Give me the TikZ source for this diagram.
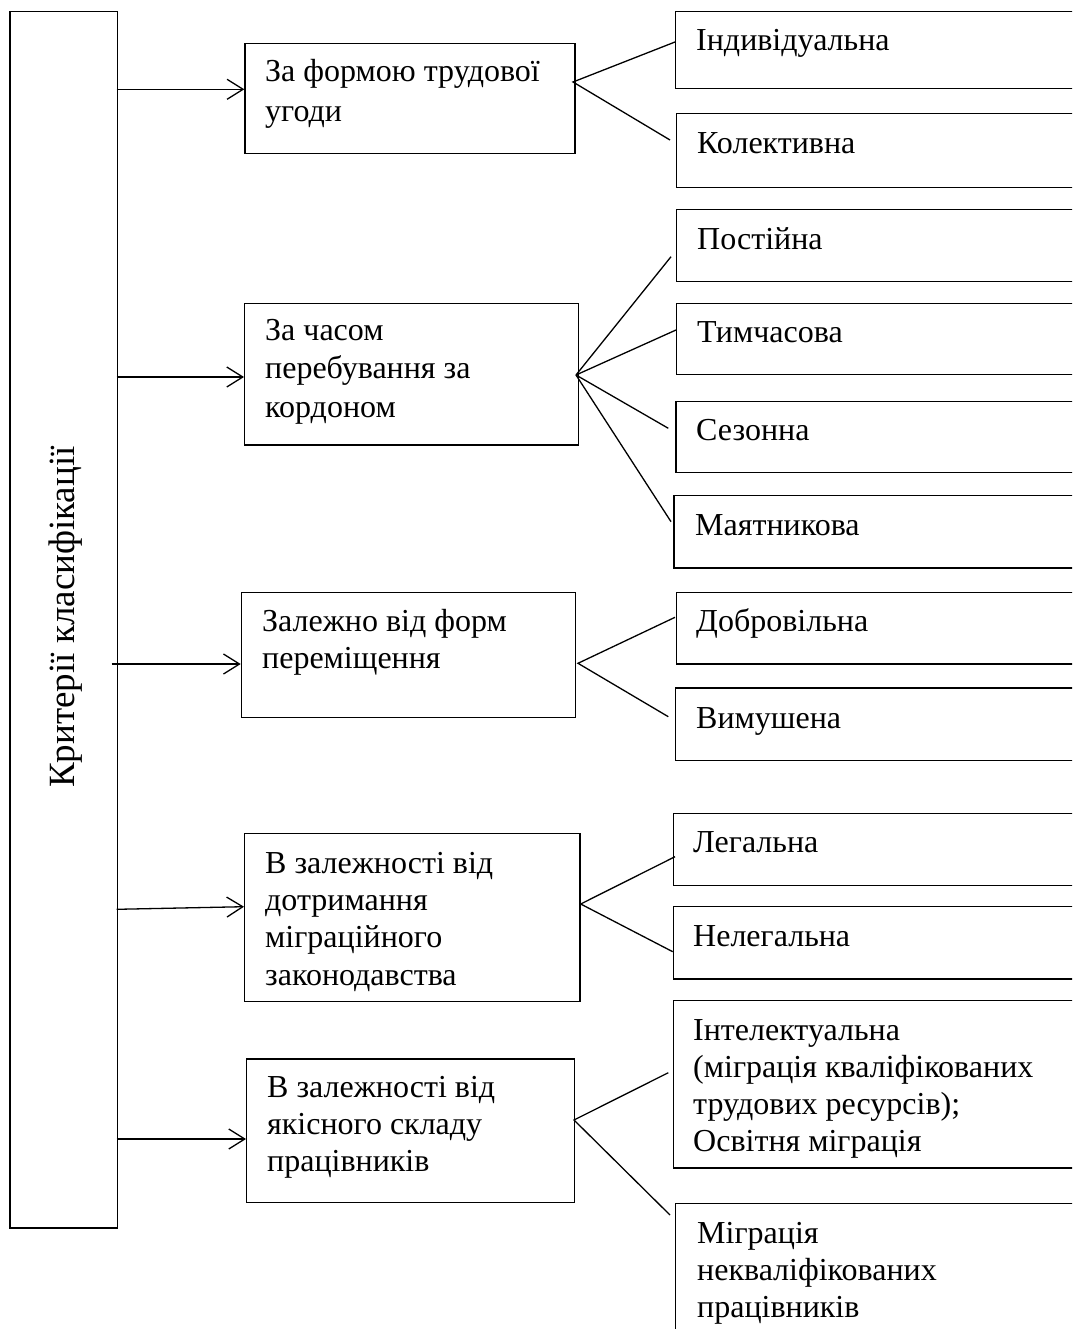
\documentclass[tikz,border=0pt]{standalone}
\usepackage{fontspec}
\setmainfont{Liberation Serif}
\usetikzlibrary{arrows.meta,calc}
\begin{document}
\begin{tikzpicture}[x=1pt,y=-1pt,
  box/.style={draw, line width=1.2pt, inner sep=0pt, anchor=north west},
  txt/.style={font=\fontsize{32}{37}\selectfont, align=left, inner sep=0pt, anchor=base west},
  arr/.style={line width=1.3pt, -{Straight Barb[length=16pt,width=20pt]}},
  fan/.style={line width=1.3pt}]
\useasboundingbox (0,0) rectangle (1072,1329);
\clip (0,0) rectangle (1072,1329);
\fill[white] (0,0) rectangle (1072,1329);

% main vertical box
\node[box, minimum width=107.4pt, minimum height=1216.6pt] (crit) at (9.3,10.7) {};
\node[font=\fontsize{37}{42}\selectfont, rotate=90, anchor=base, inner sep=0pt] (critt) at (74,617) {Критерії класифікації};

% criteria boxes
\node[box, minimum width=330pt, minimum height=110pt] (b1) at (244.3,42.7) {};
\node[box, minimum width=334pt, minimum height=141.6pt] (b2) at (244,302.7) {};
\node[box, minimum width=334.5pt, minimum height=125pt] (b3) at (240.7,591.7) {};
\node[box, minimum width=335.3pt, minimum height=168pt] (b4) at (244,832.7) {};
\node[box, minimum width=328pt, minimum height=143.4pt] (b5) at (246,1058.3) {};

% (multi-line texts are anchored at the baseline of their last line)
\node[txt, font=\fontsize{32}{40}\selectfont] (t1) at (265,122) {За формою трудової\\угоди};
\node[txt, font=\fontsize{32}{38.5}\selectfont] (t2) at (265,417) {За часом\\перебування за\\кордоном};
\node[txt] (t3) at (262,668) {Залежно від форм\\переміщення};
\node[txt, font=\fontsize{32}{37.3}\selectfont] (t4) at (265,985.2) {В залежності від\\дотримання\\міграційного\\законодавства};
\node[txt] (t5) at (267,1171) {В залежності від\\якісного складу\\працівників};

% type boxes
\node[box, minimum width=415pt, minimum height=77.6pt] (r1) at (675,10.7) {};
\node[box, minimum width=414pt, minimum height=73.4pt] (r2) at (676,113.3) {};
\node[box, minimum width=414pt, minimum height=71.7pt] (r3) at (676,209.3) {};
\node[box, minimum width=414pt, minimum height=71.3pt] (r4) at (676,302.7) {};
\node[box, minimum width=415pt, minimum height=71.3pt] (r5) at (675.3,400.7) {};
\node[box, minimum width=417pt, minimum height=72.3pt] (r6) at (673.3,495) {};
\node[box, minimum width=414pt, minimum height=71.6pt] (r7) at (676,591.7) {};
\node[box, minimum width=415pt, minimum height=72.7pt] (r8) at (675,687.3) {};
\node[box, minimum width=417pt, minimum height=72.3pt] (r9) at (672.7,812.7) {};
\node[box, minimum width=417pt, minimum height=72.3pt] (r10) at (672.7,906) {};
\node[box, minimum width=417pt, minimum height=167.3pt] (r11) at (672.7,1000) {};
\node[box, minimum width=415pt, minimum height=200pt] (r12) at (675,1203) {};

\node[txt] (u1) at (696,50.5) {Індивідуальна};
\node[txt] (u2) at (697,154) {Колективна};
\node[txt] (u3) at (697,250) {Постійна};
\node[txt] (u4) at (697,342.7) {Тимчасова};
\node[txt] (u5) at (696,440) {Сезонна};
\node[txt] (u6) at (695,535) {Маятникова};
\node[txt] (u7) at (696,631.7) {Добровільна};
\node[txt] (u8) at (696,728) {Вимушена};
\node[txt] (u9) at (693,852.3) {Легальна};
\node[txt] (u10) at (693,946.7) {Нелегальна};
\node[txt] (u11) at (693,1151) {Інтелектуальна\\(міграція кваліфікованих\\трудових ресурсів);\\Освітня міграція};
\node[txt] (u12) at (697,1317) {Міграція\\некваліфікованих\\працівників};

% arrows from the main box
\coordinate (s1) at (116.7,89.3);
\coordinate (s2) at (116.7,377);
\coordinate (s3) at (111.7,664);
\coordinate (s4) at (116.7,909.3);
\coordinate (e4) at (244,906.7);
\coordinate (s5) at (116.7,1139);
\draw[arr] (s1) -- (s1 -| b1.west);
\draw[arr] (s2) -- (s2 -| b2.west);
\draw[arr] (s3) -- (s3 -| b3.west);
\draw[arr] (s4) -- (e4);
\draw[arr] (s5) -- (s5 -| b5.west);

% fans
\coordinate (f1) at (573,82);
\coordinate (g1a) at (675,42);
\coordinate (g1b) at (670,140);
\draw[fan] (g1a) -- (f1) -- (g1b);

\coordinate (f2) at (576,375);
\coordinate (g2a) at (671,256.7);
\coordinate (g2b) at (676,330);
\coordinate (g2c) at (668.3,428.3);
\coordinate (g2d) at (671,521.7);
\draw[fan] (f2) -- (g2a);
\draw[fan] (f2) -- (g2b);
\draw[fan] (f2) -- (g2c);
\draw[fan] (f2) -- (g2d);

\coordinate (f3) at (578,663.3);
\coordinate (g3a) at (675,617.3);
\coordinate (g3b) at (668.3,716.7);
\draw[fan] (g3a) -- (f3) -- (g3b);

\coordinate (f4) at (580.7,904);
\coordinate (g4a) at (675,856.7);
\coordinate (g4b) at (672.7,951.7);
\draw[fan] (g4a) -- (f4) -- (g4b);

\coordinate (f5) at (574,1120);
\coordinate (g5a) at (668.3,1072.7);
\coordinate (g5b) at (670,1215);
\draw[fan] (g5a) -- (f5) -- (g5b);
\end{tikzpicture}
\end{document}
